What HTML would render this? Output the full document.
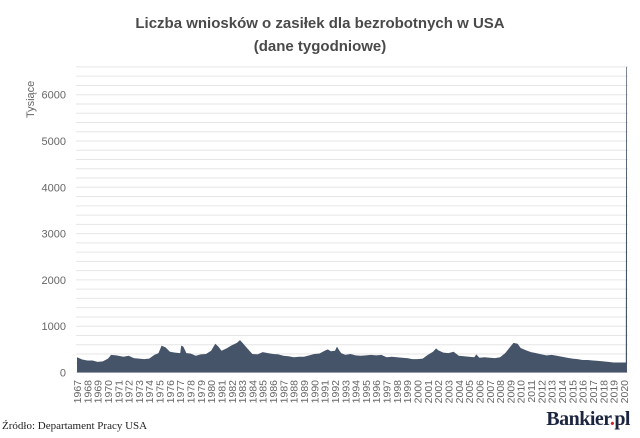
<!DOCTYPE html>
<html><head><meta charset="utf-8"><style>
body{margin:0;background:#fff;width:640px;height:438px;overflow:hidden;font-family:"Liberation Sans",sans-serif}
#title{position:absolute;left:0;width:640px;top:12px;text-align:center;font-size:15px;font-weight:bold;color:#4a4a4a;line-height:23px}
#src{position:absolute;left:2px;top:420px;font-family:"Liberation Serif",serif;font-size:11px;color:#222}
#logo{position:absolute;right:10px;top:408px;font-family:"Liberation Serif",serif;font-size:20px;font-weight:bold;color:#1c2540;letter-spacing:-0.5px}
#logo span{color:#d2232a}
</style></head><body>
<div id="title">Liczba wniosków o zasiłek dla bezrobotnych w USA<br>(dane tygodniowe)</div>
<svg id="chart" width="640" height="438" style="position:absolute;left:0;top:0"></svg>
<div id="src">Źródło: Departament Pracy USA</div>
<div id="logo">Bankier<span>.</span>pl</div>
<script>
const dates=[1967,1967.5,1968,1968.5,1969,1969.5,1970,1970.3,1970.8,1971,1971.5,1972,1972.5,1973,1973.5,1974,1974.5,1974.9,1975.2,1975.6,1976,1976.5,1977,1977.1,1977.3,1977.6,1978,1978.5,1979,1979.5,1980,1980.4,1980.7,1981,1981.5,1982,1982.5,1982.8,1983,1983.5,1984,1984.5,1985,1985.5,1986,1986.5,1987,1987.5,1988,1988.5,1989,1989.5,1990,1990.5,1991,1991.3,1991.6,1992,1992.2,1992.4,1992.6,1993,1993.5,1994,1994.5,1995,1995.5,1996,1996.5,1997,1997.5,1998,1998.5,1999,1999.5,2000,2000.5,2001,2001.5,2001.8,2002,2002.5,2003,2003.5,2004,2004.5,2005,2005.5,2005.7,2006,2006.5,2007,2007.5,2008,2008.5,2009,2009.3,2009.7,2010,2010.5,2011,2011.5,2012,2012.5,2013,2013.5,2014,2014.5,2015,2015.5,2016,2016.5,2017,2017.5,2018,2018.5,2019,2019.5,2020,2020.18,2020.2,2020.23,2020.3];
const values=[330,280,260,260,230,240,300,380,370,360,340,360,310,300,290,300,380,420,580,540,450,430,420,580,560,420,410,360,390,400,470,620,560,470,520,590,640,700,650,520,400,390,440,420,400,390,360,350,330,340,340,370,400,410,470,500,460,470,560,480,420,380,400,370,360,370,380,370,380,330,340,330,320,310,290,290,300,380,450,520,480,430,420,450,360,350,340,330,390,320,330,320,310,330,420,560,640,620,530,480,440,420,390,370,380,360,340,320,300,290,270,270,260,250,240,230,215,215,215,215,3300,6600,6600];
const yTicks=[0,1000,2000,3000,4000,5000,6000];
const years=[];for(let y=1967;y<=2020;y++)years.push(y);
const svg=document.getElementById('chart'),NS='http://www.w3.org/2000/svg';
const x0=77,x1=627,y0=372.5,pk=46.3;
const xs=d=>x0+(d-1967)/(2020.3-1967)*(x1-x0);
const ys=v=>y0-v/1000*pk;
function mk(t,a){const e=document.createElementNS(NS,t);for(const k in a)e.setAttribute(k,a[k]);svg.appendChild(e);return e;}
for(let v=0;v<=6600;v+=200){const g=mk('line',{x1:76,x2:628,y1:ys(v),y2:ys(v),stroke:'#e6e6e6','stroke-width':1});

}
yTicks.forEach(v=>{const t=mk('text',{x:66,y:ys(v)+4,'text-anchor':'end','font-size':11,fill:'#666'});t.textContent=v;

});
let d='M'+xs(dates[0])+','+y0;
dates.forEach((dt,i)=>{d+=' L'+xs(dt).toFixed(1)+','+ys(values[i]).toFixed(1);});
d+=' L'+xs(dates[dates.length-1])+','+y0+' Z';
const area=mk('path',{d:d,fill:'#46546a'});


years.forEach(y=>{const xx=xs(y)+4;const t=mk('text',{transform:`translate(${xx},380) rotate(-90)`,'text-anchor':'end','font-size':10.5,fill:'#666'});t.textContent=y;

});
const yt=mk('text',{transform:'translate(34,118) rotate(-90)','font-size':11,fill:'#666'});yt.textContent='Tysiące';


</script>
</body></html>
